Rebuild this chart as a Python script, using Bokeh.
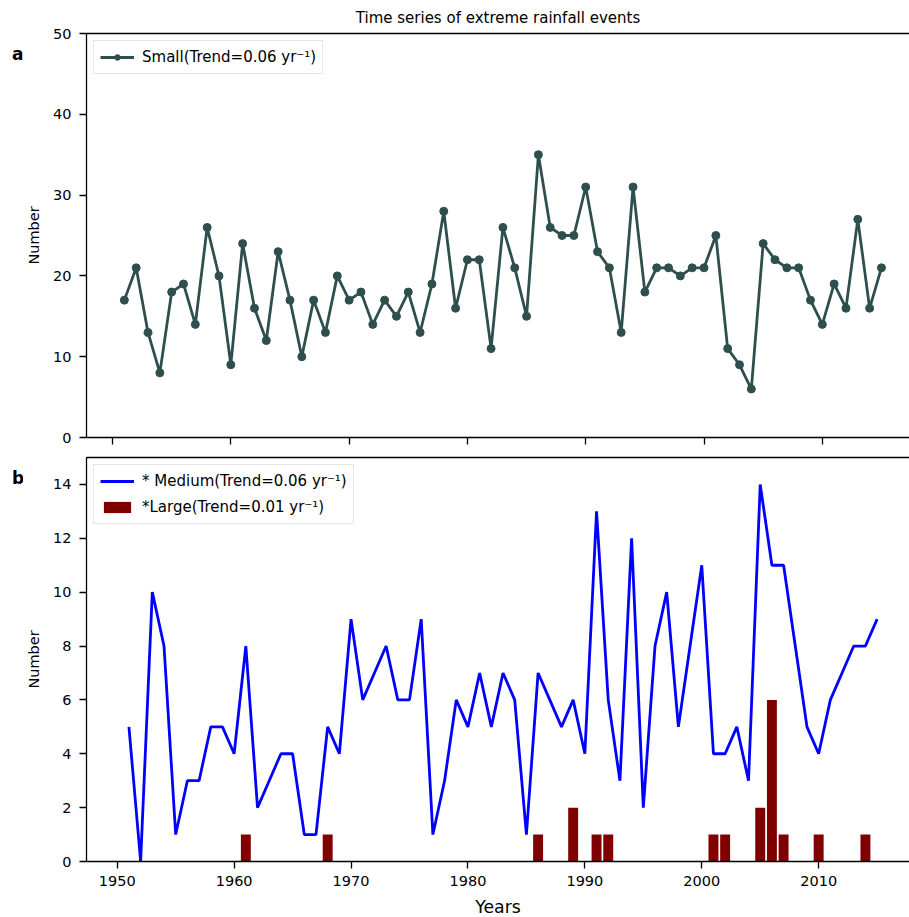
from bokeh.plotting import figure
from bokeh.models import Range1d, LinearAxis, FixedTicker, Legend, LegendItem
from bokeh.core.properties import value
from bokeh.layouts import column, row
from bokeh.embed import file_html
from bokeh.resources import INLINE

# Annual counts of extreme rainfall events
years = list(range(1951, 2016))

small = [17, 21, 13, 8, 18, 19, 14, 26, 20, 9,
         24, 16, 12, 23, 17, 10, 17, 13, 20, 17,
         18, 14, 17, 15, 18, 13, 19, 28, 16, 22,
         22, 11, 26, 21, 15, 35, 26, 25, 25, 31,
         23, 21, 13, 31, 18, 21, 21, 20, 21, 21,
         25, 11, 9, 6, 24, 22, 21, 21, 17, 14,
         19, 16, 27, 16, 21]

medium = [5, 0, 10, 8, 1, 3, 3, 5, 5, 4,
          8, 2, 3, 4, 4, 1, 1, 5, 4, 9,
          6, 7, 8, 6, 6, 9, 1, 3, 6, 5,
          7, 5, 7, 6, 1, 7, 6, 5, 6, 4,
          13, 6, 3, 12, 2, 8, 10, 5, 8, 11,
          4, 4, 5, 3, 14, 11, 11, 8, 5, 4,
          6, 7, 8, 8, 9]

large_years = [1961, 1968, 1986, 1989, 1991, 1992, 2001, 2002, 2005, 2006, 2007, 2010, 2014]
large_counts = [1, 1, 1, 2, 1, 1, 1, 1, 2, 6, 1, 1, 1]

x_ticks = [1950, 1960, 1970, 1980, 1990, 2000, 2010]
small_ticks = [0, 10, 20, 30, 40, 50]
medium_ticks = [0, 2, 4, 6, 8, 10, 12, 14]
panel_tags = ["a", "b"]

FONT = "DejaVu Sans"
TICK_SIZE = "14.5px"
STRIP_W = 23
TOTAL_H = 917


def make_panel(x_start, x_end, y_end, y_ticks, top_border, show_x_labels):
    p = figure(frame_width=823, frame_height=404,
               x_range=Range1d(x_start, x_end), y_range=Range1d(0, y_end),
               output_backend="svg", toolbar_location=None,
               min_border_left=86 - STRIP_W, min_border_right=0,
               min_border_top=top_border, min_border_bottom=10)
    p.outline_line_color = None
    p.grid.visible = False
    p.background_fill_color = "white"
    p.border_fill_color = "white"

    for ax in (p.xaxis[0], p.yaxis[0]):
        ax.axis_line_width = 1.3
        ax.axis_line_color = "black"
        ax.major_tick_line_width = 1.3
        ax.major_tick_line_color = "black"
        ax.major_tick_in = 0
        ax.major_tick_out = 7
        ax.minor_tick_line_color = None
        ax.major_label_text_font = FONT
        ax.major_label_text_font_size = TICK_SIZE
        ax.major_label_text_color = "black"
        ax.axis_label_text_font = FONT
        ax.axis_label_text_font_style = "normal"
        ax.axis_label_text_color = "black"

    p.xaxis.ticker = FixedTicker(ticks=x_ticks)
    p.yaxis.ticker = FixedTicker(ticks=y_ticks)
    p.yaxis.major_label_standoff = 8
    p.yaxis.axis_label = "Number"
    p.yaxis.axis_label_text_font_size = "14.5px"
    p.yaxis.axis_label_standoff = 8

    if show_x_labels:
        p.xaxis.major_label_standoff = 7
        p.xaxis.axis_label = "Years"
        p.xaxis.axis_label_text_font_size = "17.3px"
        p.xaxis.axis_label_standoff = 8
    else:
        # shared x axis: tick marks only
        p.xaxis.major_label_text_color = None
        p.xaxis.major_label_text_font_size = "0px"
        p.xaxis.major_label_standoff = 0

    # top spine
    top = LinearAxis(ticker=FixedTicker(ticks=[]), axis_line_width=1.3,
                     axis_line_color="black", major_tick_line_color=None,
                     minor_tick_line_color=None, major_label_text_color=None,
                     major_label_text_font_size="0px",
                     major_label_standoff=0, major_tick_out=0, major_tick_in=0)
    p.add_layout(top, "above")
    return p


def style_legend(lg):
    lg.location = "top_left"
    lg.margin = 7
    lg.padding = 6
    lg.spacing = 6
    lg.glyph_width = 34
    lg.glyph_height = 14
    lg.label_height = 20
    lg.label_standoff = 8
    lg.label_text_font = FONT
    lg.label_text_font_size = "15px"
    lg.label_text_color = "black"
    lg.border_line_color = "#cccccc"
    lg.border_line_width = 1
    lg.background_fill_color = "white"
    lg.background_fill_alpha = 0.8


# Panel a: small events
pa = make_panel(1947.80, 2017.37, 50, small_ticks, 33, False)
pa.title.text = "Time series of extreme rainfall events"
pa.title.align = "center"
pa.title.offset = 6
pa.title.standoff = 13
pa.title.text_font = FONT
pa.title.text_font_style = "normal"
pa.title.text_font_size = "15px"
pa.title.text_color = "black"

small_line = pa.line(years, small, line_color="#2F4F4F", line_width=2.8)
small_pts = pa.scatter(years, small, size=8, fill_color="#2F4F4F", line_color="#2F4F4F")
leg_a = Legend(items=[LegendItem(label="Small(Trend=0.06 yr\u207b\u00b9)",
                                 renderers=[small_line, small_pts])])
style_legend(leg_a)
pa.add_layout(leg_a)

# Panel b: medium and large events
pb = make_panel(1947.37, 2017.77, 15, medium_ticks, 10, True)
large_bars = pb.vbar(x=large_years, top=large_counts, width=0.85, bottom=0,
                     fill_color="#800000", line_color=None)
medium_line = pb.line(years, medium, line_color="#0000FF", line_width=2.8)
leg_b = Legend(items=[LegendItem(label="* Medium(Trend=0.06 yr\u207b\u00b9)", renderers=[medium_line]),
                      LegendItem(label="*Large(Trend=0.01 yr\u207b\u00b9)", renderers=[large_bars])])
style_legend(leg_b)
pb.add_layout(leg_b)

# Narrow strip on the left carrying the panel letters (pixel coordinates)
strip = figure(width=STRIP_W, height=TOTAL_H, x_range=Range1d(0, STRIP_W),
               y_range=Range1d(0, TOTAL_H), x_axis_type=None, y_axis_type=None,
               output_backend="svg", toolbar_location=None,
               min_border=0)
strip.outline_line_color = None
strip.grid.visible = False
strip.text(x=[11.5, 11.5], y=[TOTAL_H - 53, TOTAL_H - 477], text=panel_tags,
           text_font=value(FONT), text_font_style="bold", text_font_size="17px",
           text_color="black", text_align="left", text_baseline="alphabetic")

layout = row(strip, column(pa, pb, spacing=0), spacing=0)
open("out.html", "w").write(file_html(layout, INLINE))
